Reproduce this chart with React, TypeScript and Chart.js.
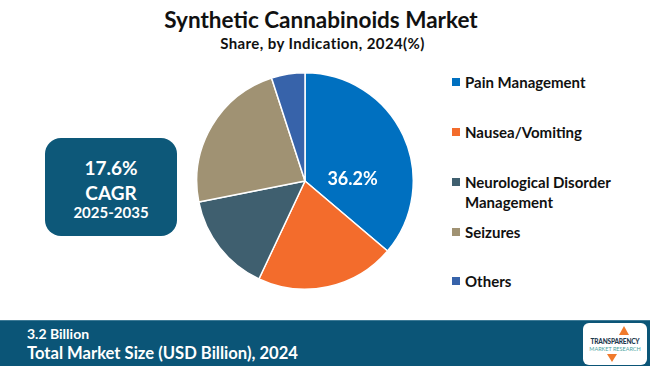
import React, { useEffect, useRef } from "react";
import { Chart, registerables } from "chart.js";

Chart.register(...registerables);

const categories = [
  "Pain Management",
  "Nausea/Vomiting",
  "Neurological Disorder Management",
  "Seizures",
  "Others",
];
const legendLines = [
  ["Pain Management"],
  ["Nausea/Vomiting"],
  ["Neurological Disorder", "Management"],
  ["Seizures"],
  ["Others"],
];
const shares = [36.2, 20.8, 14.9, 23.1, 5.0];
const colors = ["#0070C0", "#F36C2C", "#3F5F6F", "#A09273", "#3763AA"];
const shownLabel = "36.2%";

const labelPlugin = {
  id: "sliceLabel",
  afterDatasetsDraw(chart: any) {
    const meta = chart.getDatasetMeta(0);
    const arc = meta.data[0];
    if (!arc) return;
    const { x, y, startAngle, endAngle, outerRadius } = arc.getProps(
      ["x", "y", "startAngle", "endAngle", "outerRadius"],
      true
    );
    const a = startAngle + (endAngle - startAngle) * 0.67;
    const r = outerRadius * 0.44;
    const ctx = chart.ctx;
    ctx.save();
    ctx.fillStyle = "#ffffff";
    ctx.font = "bold 18px Lato, 'Open Sans', sans-serif";
    ctx.textAlign = "center";
    ctx.textBaseline = "middle";
    ctx.fillText(shownLabel, x + Math.cos(a) * r, y + Math.sin(a) * r);
    ctx.restore();
  },
};

function PieChart() {
  const ref = useRef<HTMLCanvasElement | null>(null);
  useEffect(() => {
    if (!ref.current) return;
    const chart = new Chart(ref.current, {
      type: "pie",
      data: {
        labels: categories,
        datasets: [
          {
            data: shares,
            backgroundColor: colors,
            borderColor: "#ffffff",
            borderWidth: 1.5,
          },
        ],
      },
      options: {
        responsive: false,
        animation: false,
        layout: { padding: 0 },
        plugins: {
          legend: { display: false },
          tooltip: { enabled: false },
        },
      },
      plugins: [labelPlugin],
    });
    return () => chart.destroy();
  }, []);
  return (
    <canvas
      ref={ref}
      width={218}
      height={218}
      style={{ position: "absolute", left: 196, top: 72, width: 218, height: 218 }}
    />
  );
}

export default function App() {
  const font = "Lato, 'Open Sans', sans-serif";
  return (
    <div
      style={{
        position: "absolute",
        left: 0,
        top: 0,
        width: 650,
        height: 366,
        background: "#ffffff",
        overflow: "hidden",
        fontFamily: font,
      }}
    >
      <div
        style={{
          position: "absolute",
          left: 0,
          width: 642,
          top: 6,
          textAlign: "center",
          fontWeight: 700,
          fontSize: 22.5,
          color: "#111",
          lineHeight: "28px",
        }}
      >
        Synthetic Cannabinoids Market
      </div>
      <div
        style={{
          position: "absolute",
          left: 0,
          width: 645,
          top: 34,
          textAlign: "center",
          fontWeight: 700,
          fontSize: 15,
          letterSpacing: 0.4,
          color: "#111",
          lineHeight: "18px",
        }}
      >
        Share, by Indication, 2024(%)
      </div>

      <div
        style={{
          position: "absolute",
          left: 45,
          top: 138,
          width: 132,
          height: 98,
          background: "#0D5879",
          borderRadius: 16,
          color: "#fff",
          textAlign: "center",
          fontWeight: 700,
        }}
      >
        <div style={{ position: "absolute", left: 0, right: 0, top: 18, fontSize: 19, lineHeight: "24px" }}>
          17.6%
        </div>
        <div style={{ position: "absolute", left: 0, right: 0, top: 43, fontSize: 19, lineHeight: "24px" }}>
          CAGR
        </div>
        <div style={{ position: "absolute", left: 0, right: 0, top: 65, fontSize: 15, lineHeight: "18px" }}>
          2025-2035
        </div>
      </div>

      <PieChart />

      {legendLines.map((lines, i) => {
        const tops = [73, 123, 173, 223, 272];
        return (
          <div key={i} style={{ position: "absolute", left: 452, top: tops[i] }}>
            <div
              style={{
                position: "absolute",
                left: 0,
                top: 5,
                width: 8,
                height: 8,
                background: colors[i],
              }}
            />
            {lines.map((t, j) => (
              <div
                key={j}
                style={{
                  position: "absolute",
                  left: 13,
                  top: j * 20,
                  whiteSpace: "nowrap",
                  fontSize: 15,
                  fontWeight: 700,
                  color: "#111",
                  lineHeight: "18px",
                }}
              >
                {t}
              </div>
            ))}
          </div>
        );
      })}

      <div
        style={{
          position: "absolute",
          left: 0,
          top: 320,
          width: 650,
          height: 46,
          background: "#0B5577",
          borderTop: "1px solid #3D7A96",
          boxSizing: "border-box",
          color: "#fff",
        }}
      >
        <div style={{ position: "absolute", left: 27, top: 4, fontSize: 14, fontWeight: 700, lineHeight: "18px" }}>
          3.2 Billion
        </div>
        <div style={{ position: "absolute", left: 27, top: 21, fontSize: 16.6, fontWeight: 700, lineHeight: "22px" }}>
          Total Market Size (USD Billion), 2024
        </div>
        <div
          style={{
            position: "absolute",
            left: 583,
            top: 2,
            width: 64,
            height: 42,
            background: "#ffffff",
            borderRadius: 6,
            textAlign: "center",
          }}
        >
          <div
            style={{
              position: "absolute",
              left: 36,
              top: 3,
              width: 0,
              height: 0,
              borderLeft: "5px solid transparent",
              borderRight: "5px solid transparent",
              borderBottom: "9px solid #F07A2C",
            }}
          />
          <div style={{ position: "absolute", left: 0, right: 0, top: 15, fontSize: 6.5, fontWeight: 900, color: "#1F3A4F", letterSpacing: -0.2 }}>
            TRANSPARENCY
          </div>
          <div style={{ position: "absolute", left: 0, right: 0, top: 23, fontSize: 5.5, color: "#4CA3A0" }}>
            MARKET RESEARCH
          </div>
          <div
            style={{
              position: "absolute",
              left: 24,
              top: 31,
              width: 0,
              height: 0,
              borderLeft: "5px solid transparent",
              borderRight: "5px solid transparent",
              borderTop: "8px solid #F07A2C",
            }}
          />
        </div>
      </div>
    </div>
  );
}
